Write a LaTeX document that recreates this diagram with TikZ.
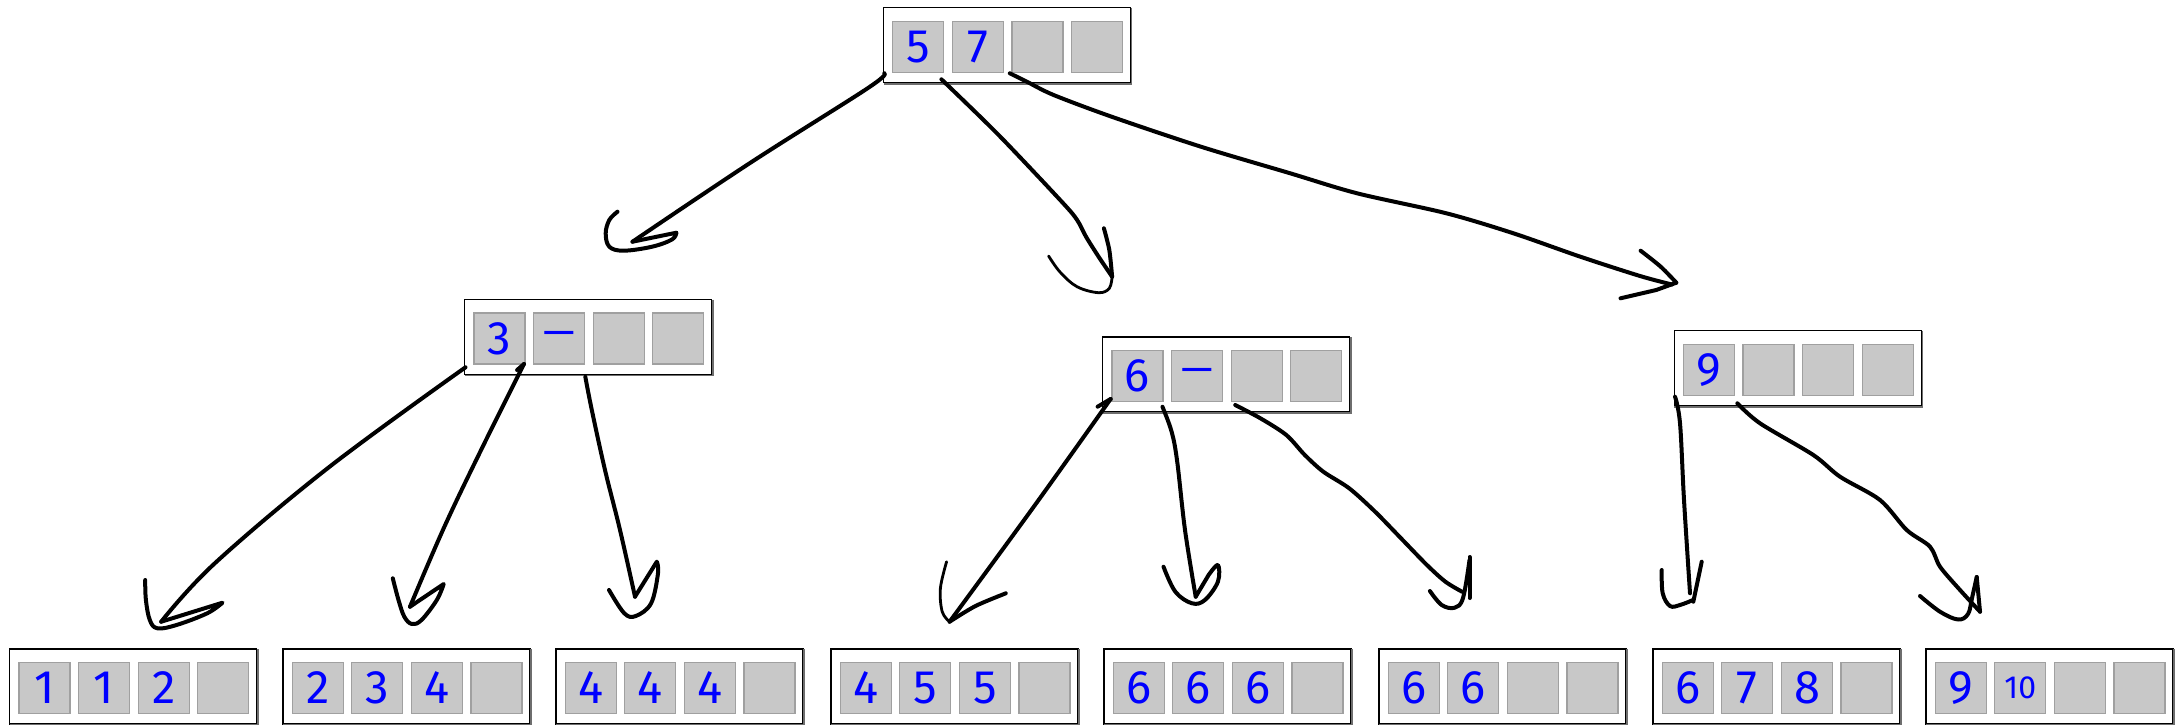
\documentclass[tikz,border=0pt]{standalone}
\usepackage{fontspec}
\setmainfont{Fira Sans}
\usetikzlibrary{calc}
\definecolor{cellgray}{RGB}{200,200,200}
\definecolor{cellline}{RGB}{160,160,160}
\definecolor{shadowgray}{RGB}{110,110,110}
\definecolor{inkblue}{RGB}{0,0,255}
\newcommand{\digitfont}{\fontsize{47}{47}\selectfont}
\newcommand{\smalldigits}{\fontsize{32}{32}\selectfont}
\newcommand{\dashmark}{{\fontsize{40}{40}\selectfont\raisebox{-8pt}{—}}}
\newcommand{\bbox}[7]{%
  \node[bnode] (#1) at (#2,#3) {};
  \draw[shadowline] ([xshift=1.2pt]#1.north east) -- ([xshift=1.2pt,yshift=-1.2pt]#1.south east) -- ([yshift=-1.2pt]#1.south west);
  \node[cellbox] (#1-1) at ($(#1.center)+(-88.7,1.4)$) {#4};
  \node[cellbox] (#1-2) at ($(#1.center)+(-29.2,1.4)$) {#5};
  \node[cellbox] (#1-3) at ($(#1.center)+(30.5,1.4)$) {#6};
  \node[cellbox] (#1-4) at ($(#1.center)+(90,1.4)$) {#7};
}
\begin{document}
\begin{tikzpicture}[x=1pt,y=-1pt,
  bnode/.style={draw=black, line width=1.2pt, fill=white, minimum width=247pt, minimum height=75pt, inner sep=0pt, outer sep=0pt},
  shadowline/.style={draw=shadowgray, line width=1.5pt},
  cellbox/.style={draw=cellline, fill=cellgray, line width=1.2pt, minimum size=51pt, inner sep=0pt, text=inkblue, font=\digitfont},
  hand/.style={draw=black, line width=4pt, line cap=round, line join=round},
  handthin/.style={draw=black, line width=2.8pt, line cap=round, line join=round}]
\fill[white] (0,0) rectangle (2175,725);
\useasboundingbox (0,0) rectangle (2175,725);

% ---------- boxes ----------
\bbox{root}{1007}{45.3}{5}{7}{}{}
\bbox{n3}{588.2}{337}{3}{\dashmark}{}{}
\bbox{n6}{1226.2}{374.5}{6}{\dashmark}{}{}
\bbox{n9}{1797.7}{368.2}{9}{}{}{}
\bbox{l1}{133.2}{686.5}{1}{1}{2}{}
\bbox{l2}{406.5}{686.5}{2}{3}{4}{}
\bbox{l3}{679.5}{686.5}{4}{4}{4}{}
\bbox{l4}{954.5}{686.5}{4}{5}{5}{}
\bbox{l5}{1227.5}{686.5}{6}{6}{6}{}
\bbox{l6}{1502.5}{686.5}{6}{6}{}{}
\bbox{l7}{1776.5}{686.5}{6}{7}{8}{}
\bbox{l8}{2049.5}{686.5}{9}{\smalldigits 10}{}{}

% ---------- connector end points ----------
\coordinate (sA) at (884.3,73.3);   \coordinate (tA) at (632.5,241.7);
\coordinate (sB) at (941.4,79.3);   \coordinate (tB) at (1112.1,276.7);
\coordinate (sC) at (1009.8,73.3);  \coordinate (tC) at (1672,284.5);
\coordinate (sD) at (465.5,367.3);  \coordinate (tD) at (161.2,621.7);
\coordinate (sE) at (524,364);      \coordinate (tE) at (410,606.7);
\coordinate (sF) at (585.3,376.7);  \coordinate (tF) at (635,596.7);
\coordinate (sG) at (1110.6,399);   \coordinate (tG) at (949.6,621.7);
\coordinate (sH) at (1162.4,406.7); \coordinate (tH) at (1195.7,596.7);
\coordinate (sI) at (1235.2,405);   \coordinate (tI) at (1462,591.7);
\coordinate (sJ) at (1675,396.7);   \coordinate (tJ) at (1690,593.3);
\coordinate (sK) at (1737.3,403.3); \coordinate (tK) at (1980,611.7);

% ---------- root -> n3 ----------
\draw[hand] plot[smooth,tension=0.6] coordinates {(sA) (868,88) (750,163) (tA)};
\draw[hand] (tA) -- plot[smooth,tension=0.6] coordinates {(676.4,232.7) (672,239.5) (652.1,246.7) (623.6,250.7) (609.3,246.7) (605.7,233.3) (609.3,220) (617.5,211.7)};

% ---------- root -> n6 ----------
\draw[hand] plot[smooth,tension=0.5] coordinates {(sB) (998.6,135) (1062,202) (1077.1,220) (1086,236.7) (1098.6,256.7) (tB)};
\draw[hand] plot[smooth,tension=0.5] coordinates {(1103.9,228.3) (1109.3,250) (tB)};
\draw[handthin] plot[smooth,tension=0.6] coordinates {(tB) (1109.3,288.3) (1098.6,292.7) (1077,286.7) (1060,272) (1048.6,256)};

% ---------- root -> n9 ----------
\draw[hand] plot[smooth,tension=0.5] coordinates {(sC) (1026.8,81.7) (1053.6,95) (1111.6,116.7) (1200.9,146.7) (1290.2,173.3) (1357.1,193.3) (1446.4,213.3) (1513.4,233.3) (1580.3,256.7) (1640,276) (tC)};
\draw[hand] plot[smooth,tension=0.5] coordinates {(1640.6,250.7) (1660.7,266.7) (1676.3,282.7)};
\draw[hand] (1676.3,282.7) -- (1656.2,290) -- (1620.5,298.3);

% ---------- n3 -> leaves ----------
\draw[hand] plot[smooth,tension=0.6] coordinates {(sD) (329.6,466.7) (214.8,563.3) (tD)};
\draw[hand] (tD) -- plot[smooth,tension=0.6] coordinates {(222.5,602.7) (207.2,613.3) (176.5,625) (157.4,628.3) (149.8,620) (145.9,600) (145.2,580)};

\draw[hand] (517.1,370) -- (sE);
\draw[hand] plot[smooth,tension=0.6] coordinates {(sE) (482.7,446.7) (444.4,526.7) (tE)};
\draw[hand] (tE) -- plot[smooth,tension=0.6] coordinates {(443.7,584) (436.8,600) (421.5,620) (411.9,624) (404.3,616.7) (398.5,600) (392.8,578.3)};

\draw[hand] plot[smooth,tension=0.6] coordinates {(sF) (591.8,410) (605,470) (620,530) (tF)};
\draw[hand] (tF) -- plot[smooth,tension=0.6] coordinates {(656.8,561.7) (658,573.3) (651.1,603.3) (635.8,616) (624.3,613.3) (609,590)};

% ---------- n6 -> leaves ----------
\draw[hand] (1097.6,406.7) -- (sG);
\draw[hand] plot[smooth,tension=0.6] coordinates {(sG) (1035,505) (tG)};
\draw[hand] plot[smooth,tension=0.5] coordinates {(tG) (975.5,606) (1005.8,593.3)};
\draw[handthin] plot[smooth,tension=0.6] coordinates {(946.6,561.7) (940.4,588.3) (942.2,611.7) (tG)};

\draw[hand] plot[smooth,tension=0.6] coordinates {(sH) (1171.6,431.7) (1177.2,461.7) (1185,530) (tH)};
\draw[hand] (tH) -- plot[smooth,tension=0.6] coordinates {(1208.6,575) (1217.9,565) (1217.9,581.7) (1204.9,600) (1192,603.3) (1175.3,591.7) (1163.5,566.7)};

\draw[hand] plot[smooth,tension=0.5] coordinates {(sI) (1260.4,418.3) (1286.3,435) (1304.8,455) (1323.3,471.7) (1349.2,488.3) (1375.1,511.7) (1401,538.3) (1426.9,565) (1445.4,581.7) (tI)};
\draw[hand] (1469.5,557) -- (1469.5,598);
\draw[hand] plot[smooth,tension=0.6] coordinates {(1429.9,591) (1441.7,605) (1454.7,607.7) (1463,598) (1469.5,560)};

% ---------- n9 -> leaves ----------
\draw[hand] plot[smooth,tension=0.6] coordinates {(sJ) (1680,423.3) (1684,500) (tJ)};
\draw[hand] (1701.7,561.7) -- (1693.3,601.7);
\draw[hand] plot[smooth,tension=0.6] coordinates {(1661.7,570) (1662.7,593.3) (1670,606) (1680,605) (1693,600)};

\draw[hand] plot[smooth,tension=0.5] coordinates {(sK) (1760,423.3) (1813.3,455) (1840,476.7) (1880,500) (1906.7,530) (1930,546.7) (1940,566.7) (1960,590) (tK)};
\draw[hand] plot[smooth,tension=0.6] coordinates {(1920,596) (1940,611.7) (1958,619.5) (1968,614) (1972,598) (1976.7,577)};
\draw[hand] (1976.7,577) -- (tK);
\end{tikzpicture}
\end{document}
